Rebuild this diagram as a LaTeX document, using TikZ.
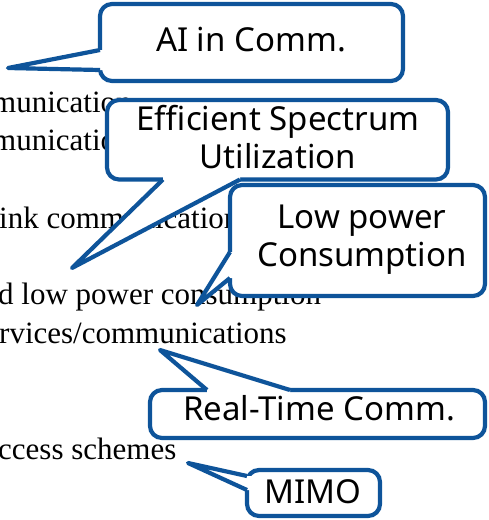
\documentclass[tikz,border=0pt]{standalone}
\usepackage{fontspec}
\setmainfont{Liberation Serif}
\newfontfamily\calloutfont{Noto Sans}
\definecolor{calloutblue}{RGB}{14,84,154}
\tikzset{
  bgtext/.style={anchor=base west, inner sep=0pt, font=\fontsize{31}{38}\selectfont},
  callout box/.style={draw=calloutblue, fill=white, line width=4.2pt, rounded corners=12pt},
  callout tail/.style={draw=calloutblue, line width=4.2pt, line join=round},
  callout text/.style={inner sep=0pt, align=center, font=\calloutfont\fontsize{33}{38}\selectfont}
}

\begin{document}
\begin{tikzpicture}[x=1pt, y=-1pt]
\useasboundingbox (0,0) rectangle (488,520);
\clip (0,0) rectangle (488,520);
\node[bgtext] (line1) at (-8,112) {munication};
\node[bgtext] (line2) at (-8,150) {munication};
\node[bgtext] (line3) at (-1,228) {ink communication};
\node[bgtext] (line4) at (-2,304) {d low power consumption};
\node[bgtext] (line5) at (-1,343) {rvices/communications};
\node[bgtext] (line6) at (-2,459) {ccess schemes};

\coordinate (ai tip) at (8,68);
\coordinate (spectrum tip) at (72,268);
\coordinate (power tip) at (197,305);
\coordinate (realtime tip) at (160,350);
\coordinate (mimo tip) at (188,463);

\draw[callout box] (100,4) rectangle (403,81);
\fill[white] (105,50) -- (100,50) -- (ai tip) -- (100,70) -- (105,70) -- cycle;
\draw[callout tail] (100,50) -- (ai tip) -- (100,70);
\node[callout text] (ai) at (251,40) {AI in Comm.};

\draw[callout box] (107,100) rectangle (448,179.5);
\fill[white] (163,174) -- (163,179.5) -- (spectrum tip) -- (240,179.5) -- (240,174) -- cycle;
\draw[callout tail] (163,179.5) -- (spectrum tip) -- (240,179.5);
\node[callout text] (spectrum) at (278,137) {Efficient Spectrum\\Utilization};

\draw[callout box] (230,185) rectangle (485,296);
\fill[white] (235,252) -- (230,252) -- (power tip) -- (230,278) -- (235,278) -- cycle;
\draw[callout tail] (230,252) -- (power tip) -- (230,278);
\node[callout text] (power) at (362,240) {Low power\\Consumption};

\draw[callout box] (150,390) rectangle (485,438);
\fill[white] (207,395) -- (207,390) -- (realtime tip) -- (290,390) -- (290,395) -- cycle;
\draw[callout tail] (207,390) -- (realtime tip) -- (290,390);
\node[callout text] (realtime) at (319,408) {Real-Time Comm.};

\draw[callout box] (247,470) rectangle (380,516);
\fill[white] (252,476) -- (247,476) -- (mimo tip) -- (247,490) -- (252,490) -- cycle;
\draw[callout tail] (247,476) -- (mimo tip) -- (247,490);
\node[callout text] (mimo) at (313,492) {MIMO};
\end{tikzpicture}
\end{document}
